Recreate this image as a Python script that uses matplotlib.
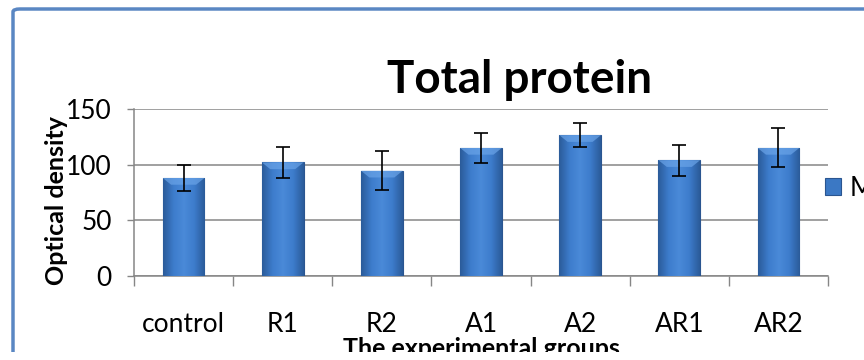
import numpy as np
import matplotlib
matplotlib.use("Agg")
import matplotlib.pyplot as plt
from matplotlib.colors import LinearSegmentedColormap
from matplotlib.patches import FancyBboxPatch, Rectangle

# Data
groups = ['control', 'R1', 'R2', 'A1', 'A2', 'AR1', 'AR2']
means = [88, 102, 94.5, 115, 126.5, 104, 115]
errors = [12, 14, 17.5, 13.5, 10.5, 14, 17.5]

plt.rcParams['font.family'] = ['Lato', 'DejaVu Sans']

fig = plt.figure(figsize=(8.64, 3.6), dpi=100)
ax = fig.add_axes([134 / 864, 84 / 360, 694 / 864, 167 / 360])

x = np.arange(len(groups))
bars = ax.bar(x, means, width=0.42, color='#3b78c4', edgecolor='#2a5590',
              linewidth=0.8, zorder=3, label='Mean')

# shaded look on each bar
shade = LinearSegmentedColormap.from_list(
    'shade', ['#2b5c9a', '#3d7ccc', '#4a8ad8', '#3d7ccc', '#2b5c9a'])
grad = np.tile(np.linspace(0, 1, 64), (32, 1))
for b in bars:
    x0, w, h = b.get_x(), b.get_width(), b.get_height()
    im = ax.imshow(grad, cmap=shade, aspect='auto', zorder=3.5,
                   extent=[x0, x0 + w, 0, h], interpolation='bicubic')
    im.set_clip_path(b)
    # lighter bevel at the top
    ax.fill([x0, x0 + w, x0 + w * 0.8, x0 + w * 0.2],
            [h, h, h - 6, h - 6], color='#6aa4e8', alpha=0.7,
            zorder=3.6, lw=0)

ax.errorbar(x, means, yerr=errors, fmt='none', ecolor='black',
            elinewidth=1.2, capsize=5, capthick=1.2, zorder=5)

ax.set_xlim(-0.5, len(groups) - 0.5)
ax.set_ylim(0, 150)
ax.set_yticks([0, 50, 100, 150])
ax.yaxis.grid(True, color='#868686', linewidth=1.1, zorder=0)
ax.set_axisbelow(True)

ax.set_xticks(x)
ax.set_xticklabels(groups)
ax.set_xticks(np.arange(-0.5, len(groups)), minor=True)
ax.tick_params(axis='x', which='major', length=0, pad=26, labelsize=19)
ax.tick_params(axis='x', which='minor', length=7, width=1, color='#868686')
ax.tick_params(axis='y', length=5, width=1, color='#868686', pad=11,
               labelsize=19)

for s in ['top', 'right']:
    ax.spines[s].set_visible(False)
for s in ['left', 'bottom']:
    ax.spines[s].set_color('#868686')
    ax.spines[s].set_linewidth(1.1)

ax.set_ylabel('Optical density', fontsize=18, fontweight='bold')
ax.yaxis.set_label_coords(-0.095, 0.45)
ax.set_xlabel('The experimental groups', fontsize=18, fontweight='bold',
              labelpad=0)
fig.text(0.601, 0.777, 'Total protein', fontsize=33, fontweight='bold',
         ha='center', va='center')

fig.legend(handles=[bars[0]], labels=['Mean'], loc='center left',
           bbox_to_anchor=(825 / 864, 1 - 188 / 360), frameon=False,
           borderpad=0, borderaxespad=0, handlelength=0.62,
           handleheight=0.62, handletextpad=0.3, fontsize=19)

# blue outer frame, cut off at the bottom and right like the reference
fig.add_artist(FancyBboxPatch((13 / 864, -0.2), 1.2, 1.2 - 9 / 360,
                              boxstyle='round,pad=0,rounding_size=0.008',
                              transform=fig.transFigure, fill=False,
                              edgecolor='#5a87c3', linewidth=2.5, zorder=9))
fig.add_artist(Rectangle((0, 0), 1, 8 / 360, transform=fig.transFigure,
                         facecolor='white', edgecolor='none', zorder=10))

fig.savefig('out.png', dpi=100)
